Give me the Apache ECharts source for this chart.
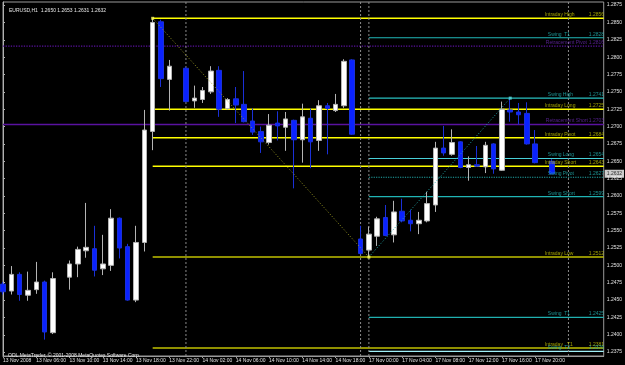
<!DOCTYPE html>
<html>
<head>
<meta charset="utf-8">
<script src="https://cdn.jsdelivr.net/npm/echarts@6/dist/echarts.min.js"></script>
<style>
html,body{margin:0;padding:0;background:#000;}
#c{width:625px;height:365px;}
</style>
</head>
<body>
<div id="c"></div>
<script>
// ---- data (hourly EURUSD bars, index = bar number) ----
const opens  = [1.2473,1.2463,1.2487,1.2457,1.2465,1.2476,1.2403,null,1.2483,1.2502,1.2521,1.2524,1.2495,1.2500,1.2568,1.2527,1.2450,1.2533,1.2693,1.2851,1.2768,null,1.2784,1.2737,1.2739,1.2750,1.2781,1.2726,1.2740,1.2732,1.2708,1.2693,1.2677,1.2705,1.2699,1.2709,1.2681,1.2712,1.2680,1.2730,1.2723,1.2730,1.2796,1.2538,1.2522,1.2542,1.2569,1.2544,1.2578,1.2565,1.2560,1.2564,1.2587,1.2669,1.2660,1.2678,1.2641,1.2645,1.2642,1.2675,1.2637,1.2724,1.2721,1.2719,1.2675,null,1.2650];
const highs  = [1.2476,1.2499,1.2490,1.2491,1.2505,1.2478,1.2490,null,1.2507,1.2527,1.2590,1.2557,1.2544,1.2581,1.2569,1.2531,1.2557,1.2724,1.2856,1.2854,1.2796,null,1.2786,1.2759,1.2757,1.2787,1.2787,1.2741,1.2757,1.2780,1.2726,1.2700,1.2718,1.2722,1.2721,1.2710,1.2733,1.2726,1.2738,1.2734,1.2747,1.2797,1.2797,1.2557,1.2556,1.2570,1.2587,1.2593,1.2596,1.2580,1.2577,1.2606,1.2678,1.2701,1.2696,1.2679,1.2657,1.2672,1.2678,1.2676,1.2736,1.2741,1.2734,1.2735,1.2695,null,1.2653];
const lows   = [1.2458,1.2458,1.2449,1.2449,1.2459,1.2393,1.2401,null,1.2465,1.2483,1.2511,1.2484,1.2486,1.2492,1.2510,1.2449,1.2447,1.2520,1.2666,1.2757,1.2723,null,1.2735,1.2727,1.2734,1.2747,1.2714,1.2724,1.2705,1.2706,1.2688,1.2662,1.2674,1.2680,1.2665,1.2611,1.2648,1.2640,1.2665,1.2660,1.2721,1.2727,1.2688,1.2516,1.2512,1.2528,1.2542,1.2533,1.2562,1.2549,1.2545,1.2562,1.2577,1.2658,1.2658,1.2640,1.2622,1.2642,1.2633,1.2632,1.2636,1.2707,1.2703,1.2674,1.2647,null,1.2631];
const closes = [1.2462,1.2487,1.2458,1.2464,1.2476,1.2404,1.2481,null,1.2502,1.2523,1.2526,1.2493,1.2502,1.2568,1.2525,1.2450,1.2533,1.2695,1.2850,1.2769,1.2787,null,1.2736,1.2741,1.2752,1.2780,1.2725,1.2739,1.2731,1.2707,1.2692,1.2678,1.2702,1.2701,1.2711,1.2681,1.2714,1.2678,1.2730,1.2726,1.2732,1.2794,1.2689,1.2517,1.2545,1.2567,1.2543,1.2577,1.2564,1.2560,1.2565,1.2589,1.2669,1.2662,1.2677,1.2641,1.2645,1.2643,1.2673,1.2639,1.2725,1.2721,1.2717,1.2675,1.2648,null,1.2632];

const timeLabels = ['13 Nov 2008','13 Nov 06:00','13 Nov 10:00','13 Nov 14:00','13 Nov 18:00','13 Nov 22:00','14 Nov 02:00','14 Nov 06:00','14 Nov 10:00','14 Nov 14:00','14 Nov 18:00','17 Nov 00:00','17 Nov 04:00','17 Nov 08:00','17 Nov 12:00','17 Nov 16:00','17 Nov 20:00'];
const priceTicks = [1.2375,1.2400,1.2425,1.2450,1.2475,1.2500,1.2525,1.2550,1.2575,1.2600,1.2625,1.2650,1.2675,1.2700,1.2725,1.2750,1.2775,1.2800,1.2825,1.2850,1.2875];

const intradayNames  = ['Intraday High','Intraday Long','Intraday Pivot','Intraday Short','Intraday Low','Intraday   T1'];
const intradayLevels = [1.2856,1.2725,1.2684,1.2643,1.2512,1.2381];
const swingNames  = ['Swing  T1','Swing High','Swing Long','Swing Pivot','Swing Short','Swing  T1','Swing  T2'];
const swingLevels = [1.2828,1.2741,1.2654,1.2627,1.2599,1.2425,1.2376];
const retraceNames  = ['Retracement Pivot','Retracement Short'];
const retraceLevels = [1.2816,1.2703];

const separatorBars = [22,43,44,68];
const headerText = 'EURUSD,H1  1.2650 1.2653 1.2631 1.2632';
const footerText = 'ODL MetaTrader, \u00a9 2001-2008 MetaQuotes Software Corp.';
const lastPrice = 1.2632;

// ---- build ----
const X_MAX = 72.24;
const Y_MIN = 1.23694, Y_MAX = 1.28795;
const FONT = '"Liberation Sans", Arial, sans-serif';
const FS = 5;

const candleData = [];
opens.forEach((o, i) => {
  if (o == null) return;
  candleData.push([i, o, closes[i], lows[i], highs[i]]);
});

// swing points from the data
let hiBar = 0;
highs.forEach((h, i) => { if (h != null && h > highs[hiBar]) hiBar = i; });
let loBar = hiBar;
lows.forEach((l, i) => { if (i > hiBar && l != null && l < lows[loBar]) loBar = i; });
let shBar = loBar;
highs.forEach((h, i) => { if (i > loBar && h != null && h > highs[shBar]) shBar = i; });

const intradayStyle = ['#ffff00','#ffff00','#ffff00','#ffff00','#c0c000','#c0c000'];
const swingStyle = [
  {c:'#20b8b8', t:'solid'}, {c:'#28c0c0', t:'solid'}, {c:'#48d0d8', t:'solid'},
  {c:'#20a8a8', t:'dotted'}, {c:'#20b4b4', t:'solid'}, {c:'#20b0b0', t:'solid'}, {c:'#a0f0f8', t:'solid'}
];
const retraceStyle = ['dotted', 'solid'];

function hLine(x0, p, color, width, type) {
  return {type:'line', silent:true, z:1, showSymbol:false, animation:false,
          data:[[x0, p], [X_MAX, p]], lineStyle:{color:color, width:width, type:type}};
}
function vLine(b) {
  return {type:'line', silent:true, z:1, showSymbol:false, animation:false,
          data:[[b, Y_MIN], [b, Y_MAX]], lineStyle:{color:'#8a8a8a', width:1, type:[2,2]}};
}

const levelSeries = [];
retraceLevels.forEach((p, i) => levelSeries.push(hLine(0, p, '#5a12a0', 1.3, retraceStyle[i])));
swingLevels.forEach((p, i) => levelSeries.push(hLine(loBar, p, swingStyle[i].c, 1.2, swingStyle[i].t)));
intradayLevels.forEach((p, i) => levelSeries.push(hLine(hiBar, p, intradayStyle[i], 1.5, 'solid')));
separatorBars.forEach(b => levelSeries.push(vLine(b)));

function labelSeries(names, levels, xName, color) {
  const d = [];
  names.forEach((n, i) => {
    d.push({value:[xName, levels[i]], label:{formatter:n}});
    d.push({value:[70.44, levels[i]], label:{formatter:levels[i].toFixed(4)}});
  });
  return {
    type:'scatter', symbolSize:0, silent:true, z:6, clip:false,
    data:d,
    label:{show:true, position:[0,0], align:'left', verticalAlign:'bottom', offset:[0,-1],
           color:color, fontSize:FS, fontFamily:FONT}
  };
}

const chart = echarts.init(document.getElementById('c'), null, {renderer:'canvas'});
chart.setOption({
  animation:false,
  backgroundColor:'#000000',
  grid:{left:2, right:21, top:2, bottom:9, show:true, borderColor:'#9a9a9a', borderWidth:1, backgroundColor:'#000'},
  title:[
    {text:headerText, left:4, top:3, textStyle:{color:'#e6e6e6', fontSize:FS, fontWeight:'normal', fontFamily:FONT}},
    {text:footerText, left:3, top:348, textStyle:{color:'#e6e6e6', fontSize:FS, fontWeight:'normal', fontFamily:FONT}}
  ],
  xAxis:{
    type:'value', min:0, max:X_MAX,
    splitLine:{show:false},
    axisLine:{show:true, lineStyle:{color:'#9a9a9a'}},
    axisTick:{show:true, customValues:timeLabels.map((_, i) => i*4), length:2, lineStyle:{color:'#9a9a9a'}},
    axisLabel:{customValues:timeLabels.map((_, i) => i*4), formatter:v => timeLabels[Math.round(v/4)],
               align:'left', color:'#e0e0e0', fontSize:FS, fontFamily:FONT, margin:2}
  },
  yAxis:{
    type:'value', position:'right', min:Y_MIN, max:Y_MAX, scale:true,
    splitLine:{show:false},
    axisLine:{show:true, lineStyle:{color:'#b0b0b0'}},
    axisTick:{show:true, customValues:priceTicks, length:2, lineStyle:{color:'#b0b0b0'}},
    axisLabel:{customValues:priceTicks, formatter:v => v.toFixed(4), color:'#e0e0e0', fontSize:FS, fontFamily:FONT, margin:3}
  },
  series: levelSeries.concat([
    {
      type:'candlestick', z:3, barWidth:5,
      encode:{x:0, y:[1,2,3,4]},
      data:candleData,
      itemStyle:{color:'#ffffff', color0:'#0a22ff', borderColor:'#b4b4b4', borderColor0:'#1a30d8', borderWidth:1}
    },
    {
      type:'line', z:4, silent:true, showSymbol:false,
      data:[[hiBar, highs[hiBar]], [loBar, lows[loBar]]],
      lineStyle:{color:'#9a9a22', width:1, type:[1,2]}
    },
    {
      type:'line', z:4, silent:true, showSymbol:false,
      data:[[loBar, lows[loBar]], [shBar, highs[shBar]]],
      lineStyle:{color:'#22a8a8', width:1, type:[1,2]}
    },
    {
      type:'scatter', z:5, silent:true, symbol:'rect', symbolSize:3,
      data:[{value:[hiBar, highs[hiBar]], itemStyle:{color:'#ffff60'}},
            {value:[loBar, lows[loBar]], itemStyle:{color:'#ffff60'}},
            {value:[shBar, highs[shBar]], itemStyle:{color:'#60e0e0'}}]
    },
    labelSeries(intradayNames, intradayLevels, 65.16, '#c4c400'),
    labelSeries(swingNames, swingLevels, 65.52, '#22b4b4'),
    labelSeries(retraceNames, retraceLevels, 65.28, '#6a28b0'),
    {
      type:'scatter', symbolSize:0, silent:true, clip:false, z:7,
      data:[[X_MAX, lastPrice]],
      label:{show:true, position:'right', distance:1, formatter:p => p.value[1].toFixed(4),
             backgroundColor:'#ffffff', color:'#000000', fontSize:FS, fontFamily:FONT, padding:[2,2,1,2]}
    }
  ])
});
</script>
</body>
</html>
